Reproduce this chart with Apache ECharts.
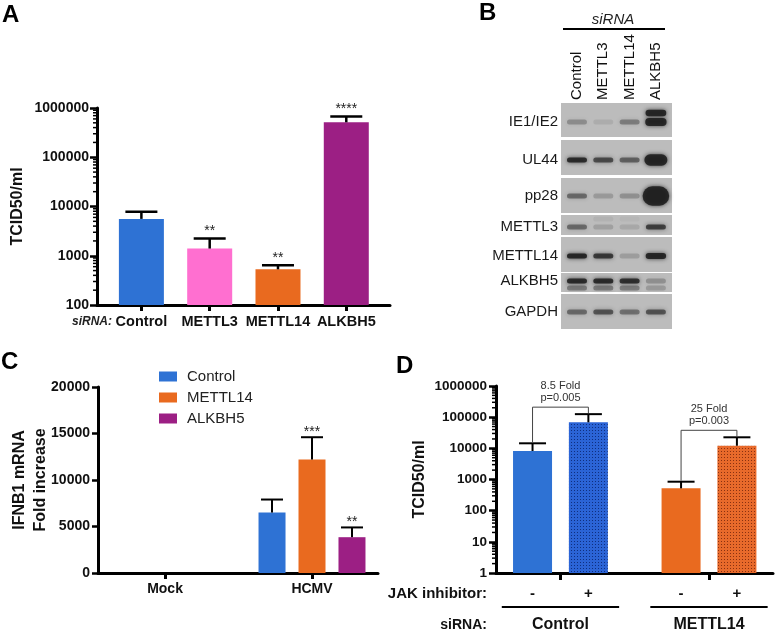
<!DOCTYPE html>
<html><head><meta charset="utf-8">
<script src="https://cdn.jsdelivr.net/npm/echarts@6/dist/echarts.min.js"></script>
<style>html,body{margin:0;padding:0;background:#fff}#c{width:776px;height:637px}</style>
</head><body><div id="c"></div>
<script>
// ---------------- DATA ----------------
// Panel A: TCID50/ml by siRNA
const aCategories = ['Control', 'METTL3', 'METTL14', 'ALKBH5'];
const aTiter = [5600, 1400, 530, 513000];
const aErrorTop = [7800, 2250, 640, 676000];
const aStars = ['', '**', '**', '****'];

// Panel B: western blot (band density, >1 means saturated / larger band)
const blotLanes = ['Control', 'METTL3', 'METTL14', 'ALKBH5'];
const blotRows = ['IE1/IE2', 'UL44', 'pp28', 'METTL3', 'METTL14', 'ALKBH5', 'GAPDH'];
const blotMainBand = [
  [0.30, 0.10, 0.40, 1.45],
  [0.95, 0.72, 0.58, 2.0],
  [0.52, 0.22, 0.28, 3.2],
  [0.52, 0.18, 0.13, 0.80],
  [1.0, 0.85, 0.20, 1.15],
  [0.95, 0.95, 0.92, 0.28],
  [0.52, 0.66, 0.48, 0.66]
];
const blotSecondBand = [
  [0, 0, 0, 1.25],
  [0, 0, 0, 0],
  [0, 0, 0, 0],
  [0, 0.07, 0.04, 0],
  [0, 0, 0, 0],
  [0.42, 0.42, 0.40, 0.22],
  [0, 0, 0, 0]
];

// Panel C: IFNB1 mRNA fold increase
const cGroups = ['Mock', 'HCMV'];
const cSeriesNames = ['Control', 'METTL14', 'ALKBH5'];
const cControl = [1, 6500];
const cControlErr = [1, 7900];
const cMETTL14 = [1, 12200];
const cMETTL14Err = [1, 14600];
const cALKBH5 = [1, 3850];
const cALKBH5Err = [1, 4900];
const cStars = [['', ''], ['', '***'], ['', '**']];

// Panel D: TCID50/ml with JAK inhibitor
const dGroups = ['Control', 'METTL14'];
const dJak = ['-', '+'];
const dMinus = [8200, 520];
const dMinusErr = [14500, 850];
const dPlus = [68400, 12100];
const dPlusErr = [125000, 22600];
const dFold = ['8.5 Fold', '25 Fold'];
const dPval = ['p=0.005', 'p=0.003'];

// Axis tick labels
const minorTickMultiples = [2, 3, 4, 5, 6, 7, 8, 9];

// ---------------- LAYOUT / STYLE ----------------
const FONT = '"Liberation Sans", Arial, Helvetica, sans-serif';
const A_MIN = 100, A_MAX = 1000000, D_MIN = 1, D_MAX = 1000000;
const aColors = ['#2e72d4', '#ff6fd0', '#e96a1f', '#9c1f84'];
const cColors = ['#2e72d4', '#e96a1f', '#9c1f84'];
const blotRowBox = [[0, 34], [37, 72], [75, 110], [112, 132], [134, 169], [170, 189], [191, 226]];
const blotBandY = [19, 20, 18, 12, 19, 8, 18];
const blotBand2Y = [10, 0, 0, 4, 0, 15, 0];
const D_OFF = 0.188;
const C_OFF = 0.272;

function dotPattern(base, dot) {
  const c = document.createElement('canvas');
  c.width = 3; c.height = 3;
  const g = c.getContext('2d');
  g.fillStyle = base; g.fillRect(0, 0, 3, 3);
  g.fillStyle = dot; g.fillRect(1, 1, 1, 1);
  return { image: c, repeat: 'repeat' };
}
const dMinusFill = ['#2e72d4', '#e96a1f'];
const dPlusFill = [dotPattern('#2b64d6', '#0f2f80'), dotPattern('#e86a2b', '#8a3110')];

function decadeTicks(min, max) {
  const out = [];
  for (let d = min; d < max; d *= 10) minorTickMultiples.forEach(m => out.push([0, m * d]));
  return out;
}

function barGroup(api, x, v, e, base, o) {
  const top = api.coord([x, v]);
  const b = api.coord([x, base]);
  const cap = api.coord([x, e]);
  const ch = [
    { type: 'rect', shape: { x: top[0] - o.bw / 2, y: top[1], width: o.bw, height: b[1] - top[1] }, style: { fill: o.fill } },
    { type: 'line', shape: { x1: top[0], y1: top[1], x2: top[0], y2: cap[1] }, style: { stroke: '#000', lineWidth: o.lw } },
    { type: 'line', shape: { x1: top[0] - o.cw / 2, y1: cap[1], x2: top[0] + o.cw / 2, y2: cap[1] }, style: { stroke: '#000', lineWidth: o.lw } }
  ];
  if (o.star) ch.push({ type: 'text', style: { text: o.star, x: top[0], y: cap[1] - o.starGap, align: 'center', verticalAlign: 'middle', font: '14px ' + FONT, fill: '#222' } });
  return { type: 'group', children: ch };
}

function minorTickSeries(xi, yi, min, max, len) {
  return {
    type: 'custom', xAxisIndex: xi, yAxisIndex: yi, clip: false, silent: true,
    data: decadeTicks(min, max),
    renderItem: (params, api) => {
      const p = api.coord([0, api.value(1)]);
      const x0 = params.coordSys.x;
      return { type: 'line', shape: { x1: x0 - len, y1: p[1], x2: x0, y2: p[1] }, style: { stroke: '#000', lineWidth: 1.5 } };
    }
  };
}

const axisLineBold = { show: true, onZero: false, lineStyle: { color: '#000', width: 3 } };
const boldLabel = (size, margin, extra) => Object.assign({ fontWeight: 'bold', fontSize: size, color: '#111', margin: margin, fontFamily: FONT }, extra || {});

const chart = echarts.init(document.getElementById('c'), null, { renderer: 'canvas' });

const option = {
  animation: false,
  backgroundColor: '#fff',
  textStyle: { fontFamily: FONT },
  grid: [
    { left: 97, top: 108, width: 293, height: 197 },
    { left: 561, top: 103, width: 111, height: 226 },
    { left: 98, top: 387, width: 280, height: 186 },
    { left: 496, top: 386, width: 277, height: 187 }
  ],
  xAxis: [
    { type: 'value', gridIndex: 0, min: -0.65, max: 3.64, splitLine: { show: false }, axisLine: axisLineBold,
      axisTick: { show: true, customValues: [0, 1, 2, 3], length: 6, lineStyle: { width: 3, color: '#000' } },
      axisLabel: boldLabel(14.5, 9, { customValues: [0, 1, 2, 3], formatter: v => aCategories[Math.round(v)] }) },
    { type: 'value', gridIndex: 1, position: 'top', min: -0.608, max: 3.612, splitLine: { show: false },
      axisLine: { show: false }, axisTick: { show: false },
      axisLabel: { customValues: [0, 1, 2, 3], formatter: v => blotLanes[Math.round(v)], rotate: 90, margin: 3, fontSize: 15, color: '#111', fontFamily: FONT } },
    { type: 'value', gridIndex: 2, min: -0.456, max: 1.449, splitLine: { show: false }, axisLine: axisLineBold,
      axisTick: { show: true, customValues: [0, 1], length: 6, lineStyle: { width: 3, color: '#000' } },
      axisLabel: boldLabel(14, 9, { customValues: [0, 1], formatter: v => cGroups[Math.round(v)] }) },
    { type: 'value', gridIndex: 3, min: -0.434, max: 1.431, splitLine: { show: false }, axisLine: axisLineBold,
      axisTick: { show: true, customValues: [0, 1], length: 7, lineStyle: { width: 3, color: '#000' } },
      axisLabel: { show: false } }
  ],
  yAxis: [
    { type: 'log', logBase: 10, gridIndex: 0, min: A_MIN, max: A_MAX, splitLine: { show: false }, axisLine: axisLineBold,
      axisTick: { show: true, length: 7, lineStyle: { width: 2.5, color: '#000' } },
      axisLabel: boldLabel(14, 8, { formatter: v => String(Math.round(v)) }),
      name: 'TCID50/ml', nameLocation: 'middle', nameGap: 71,
      nameTextStyle: { fontWeight: 'bold', fontSize: 16, color: '#111', fontFamily: FONT } },
    { type: 'value', gridIndex: 1, inverse: true, min: 0, max: 226, splitLine: { show: false },
      axisLine: { show: false }, axisTick: { show: false },
      axisLabel: { customValues: blotRows.map((r, i) => blotRowBox[i][0] + blotBandY[i]),
        formatter: v => { const i = blotRows.findIndex((r, k) => Math.abs(blotRowBox[k][0] + blotBandY[k] - v) < 0.01); return i >= 0 ? blotRows[i] : ''; },
        fontSize: 15, margin: 3, color: '#1a1a1a', fontFamily: FONT } },
    { type: 'value', gridIndex: 2, min: 0, max: 20000, interval: 5000, splitLine: { show: false }, axisLine: axisLineBold,
      axisTick: { show: true, length: 6, lineStyle: { width: 2.5, color: '#000' } },
      axisLabel: boldLabel(14, 8, { formatter: v => String(v) }),
      name: 'IFNB1 mRNA\nFold increase', nameLocation: 'middle', nameGap: 47, nameMoveOverlap: false,
      nameTextStyle: { fontWeight: 'bold', fontSize: 16, lineHeight: 21, color: '#111', fontFamily: FONT } },
    { type: 'log', logBase: 10, gridIndex: 3, min: D_MIN, max: D_MAX, splitLine: { show: false }, axisLine: axisLineBold,
      axisTick: { show: true, length: 7, lineStyle: { width: 2.5, color: '#000' } },
      axisLabel: boldLabel(13.5, 9, { formatter: v => String(Math.round(v)) }),
      name: 'TCID50/ml', nameLocation: 'middle', nameGap: 68,
      nameTextStyle: { fontWeight: 'bold', fontSize: 16, color: '#111', fontFamily: FONT } }
  ],
  legend: {
    orient: 'vertical', left: 159, top: 369, padding: 0, itemWidth: 18, itemHeight: 10, itemGap: 6,
    icon: 'rect', data: cSeriesNames, selectedMode: false,
    textStyle: { fontSize: 15, color: '#222', fontFamily: FONT, padding: [0, 0, 0, 5] }
  },
  series: [
    // Panel A bars
    { type: 'custom', name: 'A', xAxisIndex: 0, yAxisIndex: 0, clip: false,
      data: aCategories.map((c, i) => [i, aTiter[i], aErrorTop[i]]),
      renderItem: (params, api) => {
        const i = params.dataIndex;
        return barGroup(api, api.value(0), api.value(1), api.value(2), A_MIN,
          { bw: 45, cw: 32, lw: 2.5, fill: aColors[i], star: aStars[i], starGap: 7 });
      } },
    minorTickSeries(0, 0, A_MIN, A_MAX, 4),
    // Panel B blot backgrounds
    { type: 'custom', xAxisIndex: 1, yAxisIndex: 1, clip: false, silent: true,
      data: blotRows.map((r, i) => [0, i]),
      renderItem: (params, api) => {
        const i = params.dataIndex;
        const t = api.coord([0, blotRowBox[i][0]])[1];
        const b = api.coord([0, blotRowBox[i][1]])[1];
        const cs = params.coordSys;
        return { type: 'rect', shape: { x: cs.x, y: t, width: cs.width, height: b - t }, style: { fill: '#bcbcbc' } };
      } },
    // Panel B bands
    { type: 'custom', xAxisIndex: 1, yAxisIndex: 1, clip: false, silent: true,
      data: (() => {
        const out = [];
        blotRows.forEach((r, i) => blotLanes.forEach((l, j) => {
          if (blotMainBand[i][j] > 0) out.push([j, i, blotMainBand[i][j], 0]);
          if (blotSecondBand[i][j] > 0) out.push([j, i, blotSecondBand[i][j], 1]);
        }));
        return out;
      })(),
      renderItem: (params, api) => {
        const lane = api.value(0), row = api.value(1), s = api.value(2), kind = api.value(3);
        const off = kind === 0 ? blotBandY[row] : blotBand2Y[row];
        const p = api.coord([lane, blotRowBox[row][0] + off]);
        const over = Math.max(0, s - 1);
        const w = 20 + 3 * over, h = 5 + 6.5 * over;
        const a = Math.min(1, s) * 0.88;
        const col = 'rgba(28,28,28,' + a.toFixed(3) + ')';
        return { type: 'rect', shape: { x: p[0] - w / 2, y: p[1] - h / 2, width: w, height: h, r: Math.min(h, w) / 2 },
          style: { fill: col, shadowBlur: 4, shadowColor: col } };
      } },
    // Panel C bars
    ...cSeriesNames.map((name, si) => {
      const vals = [cControl, cMETTL14, cALKBH5][si];
      const errs = [cControlErr, cMETTL14Err, cALKBH5Err][si];
      return {
        type: 'custom', name: name, xAxisIndex: 2, yAxisIndex: 2, clip: false,
        itemStyle: { color: cColors[si] },
        data: cGroups.map((g, gi) => [gi + (si - 1) * C_OFF, vals[gi], errs[gi], gi]),
        renderItem: (params, api) => barGroup(api, api.value(0), api.value(1), api.value(2), 0,
          { bw: 27, cw: 22, lw: 2, fill: cColors[si], star: cStars[si][params.dataIndex], starGap: 5 })
      };
    }),
    // Panel D bars
    { type: 'custom', xAxisIndex: 3, yAxisIndex: 3, clip: false,
      data: (() => {
        const out = [];
        dGroups.forEach((g, gi) => {
          out.push([gi - D_OFF, dMinus[gi], dMinusErr[gi], gi, 0]);
          out.push([gi + D_OFF, dPlus[gi], dPlusErr[gi], gi, 1]);
        });
        return out;
      })(),
      renderItem: (params, api) => {
        const gi = api.value(3), j = api.value(4);
        return barGroup(api, api.value(0), api.value(1), api.value(2), D_MIN,
          { bw: 39, cw: 27, lw: 2, fill: j ? dPlusFill[gi] : dMinusFill[gi] });
      } },
    minorTickSeries(3, 3, D_MIN, D_MAX, 4),
    // Panel D comparison brackets
    { type: 'custom', xAxisIndex: 3, yAxisIndex: 3, clip: false, silent: true,
      data: dGroups.map((g, gi) => [gi, dMinusErr[gi], dPlusErr[gi]]),
      renderItem: (params, api) => {
        const gi = params.dataIndex;
        const l = api.coord([gi - D_OFF, api.value(1)]);
        const r = api.coord([gi + D_OFF, api.value(2)]);
        const top = Math.min(l[1], r[1]) - 7;
        const mid = (l[0] + r[0]) / 2;
        return { type: 'group', children: [
          { type: 'polyline', shape: { points: [[l[0], l[1] - 1], [l[0], top], [r[0], top], [r[0], r[1] - 1]] }, style: { stroke: '#444', lineWidth: 1, fill: null } },
          { type: 'text', style: { text: dFold[gi], x: mid, y: top - 21, align: 'center', verticalAlign: 'middle', font: '11px ' + FONT, fill: '#333' } },
          { type: 'text', style: { text: dPval[gi], x: mid, y: top - 9, align: 'center', verticalAlign: 'middle', font: '11px ' + FONT, fill: '#333' } }
        ] };
      } },
    // Panel D group labels under axis
    { type: 'custom', xAxisIndex: 3, yAxisIndex: 3, clip: false, silent: true,
      data: dGroups.map((g, gi) => [gi, D_MIN]),
      renderItem: (params, api) => {
        const gi = params.dataIndex;
        const c = api.coord([gi, D_MIN]);
        const m = api.coord([gi - D_OFF, D_MIN]);
        const p = api.coord([gi + D_OFF, D_MIN]);
        const ul = api.coord([gi - 0.395, D_MIN]);
        const ur = api.coord([gi + 0.395, D_MIN]);
        return { type: 'group', children: [
          { type: 'text', style: { text: dJak[0], x: m[0], y: c[1] + 21, align: 'center', verticalAlign: 'middle', font: 'bold 15px ' + FONT, fill: '#111' } },
          { type: 'text', style: { text: dJak[1], x: p[0], y: c[1] + 21, align: 'center', verticalAlign: 'middle', font: 'bold 15px ' + FONT, fill: '#111' } },
          { type: 'line', shape: { x1: ul[0], y1: c[1] + 34, x2: ur[0], y2: c[1] + 34 }, style: { stroke: '#000', lineWidth: 2 } },
          { type: 'text', style: { text: dGroups[gi], x: c[0], y: c[1] + 52, align: 'center', verticalAlign: 'middle', font: 'bold 16px ' + FONT, fill: '#111' } }
        ] };
      } }
  ],
  graphic: [
    { type: 'text', left: 2, top: 3, style: { text: 'A', font: 'bold 24px ' + FONT, fill: '#000' } },
    { type: 'text', left: 479, top: 1, style: { text: 'B', font: 'bold 24px ' + FONT, fill: '#000' } },
    { type: 'text', left: 1, top: 350, style: { text: 'C', font: 'bold 24px ' + FONT, fill: '#000' } },
    { type: 'text', left: 396, top: 354, style: { text: 'D', font: 'bold 24px ' + FONT, fill: '#000' } },
    { type: 'text', x: 112, y: 322, style: { text: 'siRNA:', font: 'italic bold 12px ' + FONT, fill: '#222', align: 'right', verticalAlign: 'middle' } },
    { type: 'text', x: 613, y: 20, style: { text: 'siRNA', font: 'italic 15px ' + FONT, fill: '#222', align: 'center', verticalAlign: 'middle' } },
    { type: 'line', shape: { x1: 563, y1: 29, x2: 665, y2: 29 }, style: { stroke: '#000', lineWidth: 2 } },
    { type: 'text', x: 487, y: 594, style: { text: 'JAK inhibitor:', font: 'bold 15px ' + FONT, fill: '#111', align: 'right', verticalAlign: 'middle' } },
    { type: 'text', x: 487, y: 625, style: { text: 'siRNA:', font: 'bold 14px ' + FONT, fill: '#111', align: 'right', verticalAlign: 'middle' } }
  ]
};
chart.setOption(option);
</script>
</body></html>
